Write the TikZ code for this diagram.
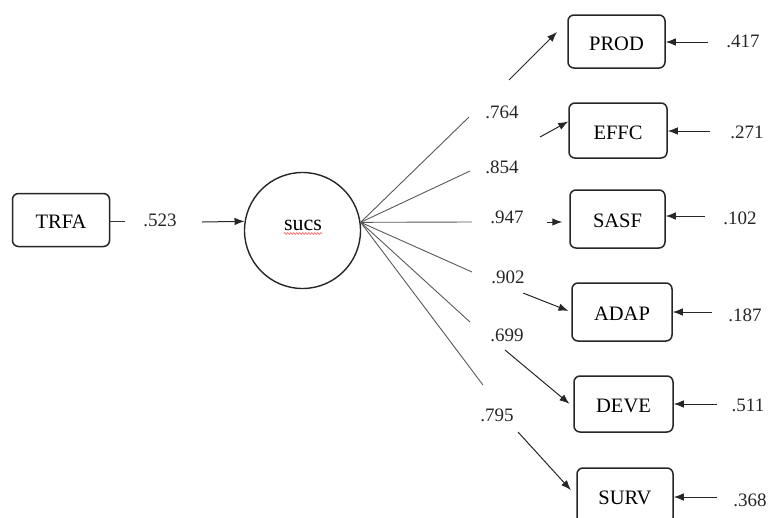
\documentclass[tikz,border=0pt]{standalone}
\usepackage{fontspec}
\setmainfont{Liberation Serif}
\usetikzlibrary{arrows.meta,decorations.pathmorphing}
\begin{document}
\begin{tikzpicture}[x=1pt,y=-1pt,
  box/.style={draw=black!85, line width=1.5pt, rounded corners=6pt, fill=white, inner sep=0pt, text height=17pt, text depth=0pt, font=\fontsize{20.5}{24}\selectfont},
  lat/.style={circle, draw=black!85, line width=1.4pt, minimum size=116pt, inner sep=0pt},
  lbl/.style={font=\fontsize{19}{22}\selectfont, inner sep=1pt, text=black!85},
  pth/.style={draw=black!65, line width=0.9pt},
  arr/.style={draw=black!85, line width=1pt, -{Latex[length=10pt,width=7.5pt]}},
]
\useasboundingbox (0,0) rectangle (771,517);
\clip (0,0) rectangle (771,517);

% nodes
\node[box, minimum width=97pt, minimum height=53pt] (TRFA) at (61,220) {TRFA};
\node[lat] (sucs) at (302.5,230.5) {};
\node[font=\fontsize{22}{25}\selectfont, inner sep=0pt] (sucstxt) at (303,225) {sucs};
\draw[red!65, line width=0.6pt, decorate, decoration={snake, amplitude=0.9pt, segment length=3pt}] ([yshift=-3pt]sucstxt.south west) -- ([yshift=-3pt]sucstxt.south east);

\node[box, minimum width=97pt, minimum height=53pt] (PROD) at (616.5,41.5) {PROD};
\node[box, minimum width=98pt, minimum height=55pt] (EFFC) at (618,130.5) {EFFC};
\node[box, minimum width=95pt, minimum height=58pt] (SASF) at (617.5,219) {SASF};
\node[box, minimum width=100pt, minimum height=58pt] (ADAP) at (622,312) {ADAP};
\node[box, minimum width=99pt, minimum height=56pt] (DEVE) at (623.5,404) {DEVE};
\node[box, minimum width=96pt, minimum height=56pt] (SURV) at (625,496) {SURV};

% TRFA -> sucs
\coordinate (d1) at (125,221);
\draw[draw=black!80, line width=0.9pt] (TRFA.east |- d1) -- (d1);
\node[lbl] (l523) at (160,220) {.523};
\coordinate (a0) at (202,222);
\draw[arr] (a0) -- (sucs.171);

% loading path segments
\coordinate (p1) at (469,117);
\coordinate (p2) at (470,171);
\coordinate (p3) at (472,222);
\coordinate (p4) at (472,272);
\coordinate (p5) at (470,322);
\coordinate (p6) at (483,385);
\foreach \p in {p1,p2,p3,p4,p5,p6} \draw[pth] (sucs.8) -- (\p);

\node[lbl] (l1) at (502,112) {.764};
\node[lbl] (l2) at (502,167) {.854};
\node[lbl] (l3) at (507,217) {.947};
\node[lbl] (l4) at (508,277) {.902};
\node[lbl] (l5) at (507,335) {.699};
\node[lbl] (l6) at (497,415) {.795};

\coordinate (s1) at (509,80);
\coordinate (t1) at (557,32);
\coordinate (s2) at (540,137);
\coordinate (s3) at (547,222);
\coordinate (s4) at (523,293);
\coordinate (s5) at (505,350);
\coordinate (s6) at (518,432);
\draw[arr] (s1) -- (t1);
\draw[arr] (s2) -- ([yshift=9pt]EFFC.west);
\draw[arr, shorten >=7pt] (s3) -- (SASF.west |- s3);
\draw[arr, shorten >=3pt] (s4) -- (ADAP.west);
\draw[arr, shorten >=5pt] (s5) -- ([yshift=-3pt]DEVE.west);
\draw[arr, shorten >=8pt] (s6) -- (SURV.west);

% error terms
\node[lbl] (e1) at (743,41) {.417};
\node[lbl] (e2) at (747,132) {.271};
\node[lbl] (e3) at (740,218) {.102};
\node[lbl] (e4) at (745,315) {.187};
\node[lbl] (e5) at (748,405) {.511};
\node[lbl] (e6) at (750,500) {.368};
\coordinate (r1) at (708,42);
\coordinate (r2) at (710,131);
\coordinate (r3) at (705,216);
\coordinate (r4) at (712,312);
\coordinate (r5) at (717,404);
\coordinate (r6) at (717,497);
\draw[arr] (r1) -- (PROD.east |- r1);
\draw[arr] (r2) -- (EFFC.east |- r2);
\draw[arr] (r3) -- (SASF.east |- r3);
\draw[arr] (r4) -- (ADAP.east |- r4);
\draw[arr] (r5) -- (DEVE.east |- r5);
\draw[arr] (r6) -- (SURV.east |- r6);
\end{tikzpicture}
\end{document}
